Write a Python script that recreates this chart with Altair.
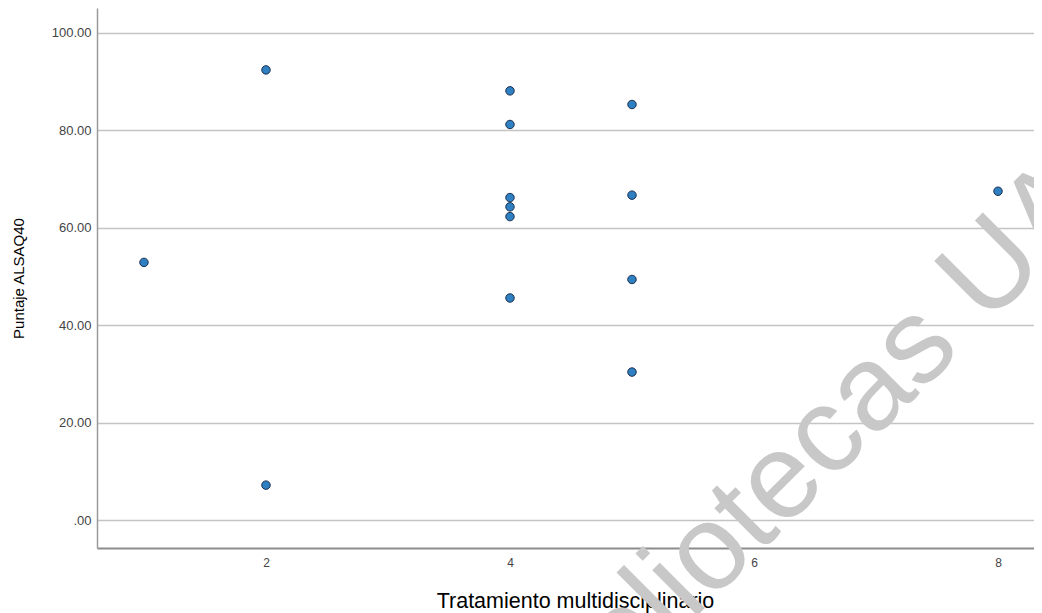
import altair as alt
import pandas as pd

# Data
treatment = [1, 2, 2, 4, 4, 4, 4, 4, 4, 5, 5, 5, 5, 8]
score = [52.9, 92.4, 7.2, 88.1, 81.2, 66.2, 64.3, 62.3, 45.6, 85.3, 66.7, 49.4, 30.4, 67.5]
x_ticks = [2, 4, 6, 8]
y_ticks = [0, 20, 40, 60, 80, 100]
watermark = ["Bibliotecas UAQ"]

df = pd.DataFrame({"t": treatment, "s": score})
wm = pd.DataFrame({"w": watermark})

FONT = "Liberation Sans"
W, H = 937, 540

x_enc = alt.X(
    "t:Q",
    scale=alt.Scale(domain=[0.615, 8.295], nice=False, zero=False),
    axis=alt.Axis(
        values=x_ticks, title="Tratamiento multidisciplinario", grid=False, ticks=False,
        labelPadding=9, labelFontSize=12, labelColor="#444444", labelFont=FONT,
        titleFont=FONT, titleFontSize=21.5, titleFontWeight="normal", titleColor="#000000",
        titleX=478, titleY=59, titleBaseline="alphabetic", titleAlign="center",
        domainColor="#8c8c8c", domainWidth=2,
    ),
)
y_enc = alt.Y(
    "s:Q",
    scale=alt.Scale(domain=[-5.7, 105.1], nice=False, zero=False),
    axis=alt.Axis(
        values=y_ticks, title="Puntaje ALSAQ40", ticks=False,
        labelExpr="datum.value == 0 ? '.00' : format(datum.value, '.2f')",
        labelPadding=6, labelFontSize=13, labelColor="#444444", labelFont=FONT,
        titleFont=FONT, titleFontSize=15, titleFontWeight="normal", titleColor="#000000",
        titleX=-79, titleY=270, titleAngle=270, titleAlign="center", titleBaseline="middle",
        domainColor="#9a9a9a", domainWidth=1.5,
        grid=True, gridColor="#c4c4c4", gridWidth=1.5,
    ),
)

points = alt.Chart(df).mark_circle(
    size=72, color="#2f80c3", stroke="#1b2f4d", strokeWidth=1, opacity=1
).encode(x=x_enc, y=y_enc)

mark_wm = alt.Chart(wm).mark_text(
    align="left", baseline="alphabetic", angle=315, fontSize=121, font=FONT,
    color="#c8c8c8",
).encode(x=alt.value(452), y=alt.value(756), text="w:N")

chart = alt.layer(mark_wm, points).properties(
    width=W, height=H,
    autosize=alt.AutoSizeParams(type="none"),
    padding={"left": 89, "top": 0, "right": 0, "bottom": 65},
).configure_view(stroke=None)

chart.save("out.html", embed_options={"renderer": "svg", "actions": False})
